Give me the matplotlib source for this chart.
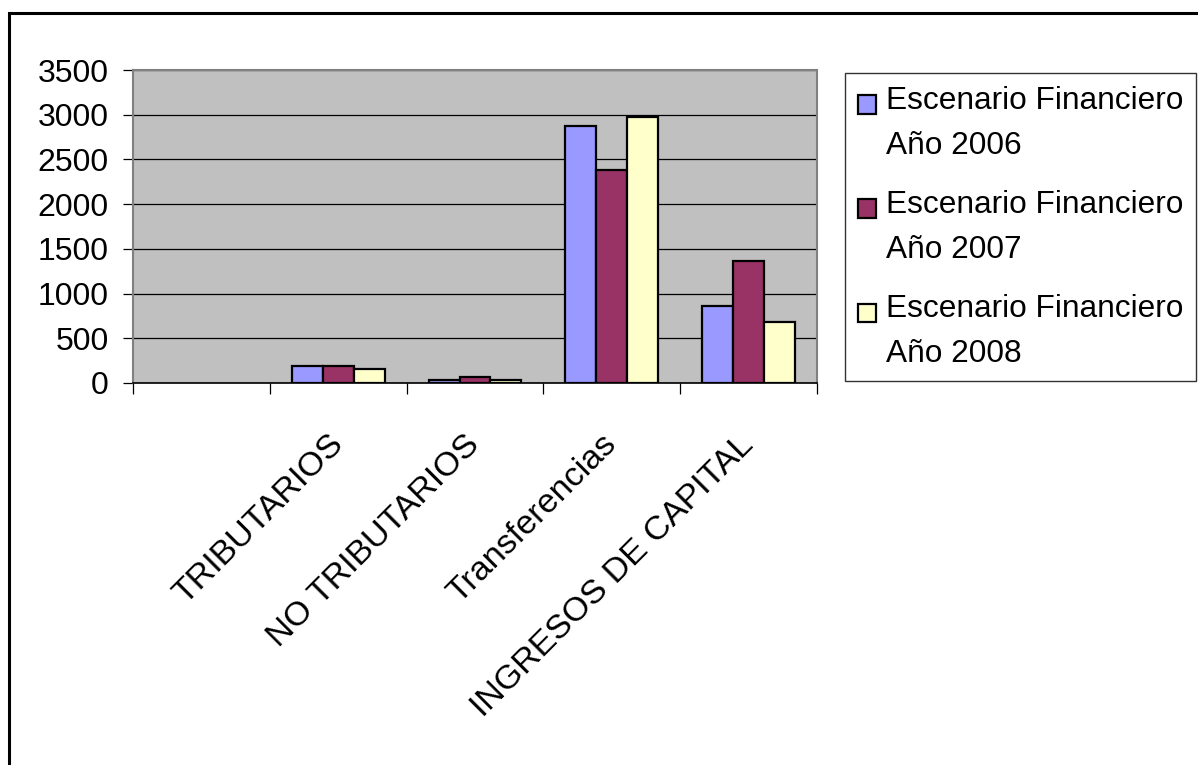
import numpy as np
import matplotlib
matplotlib.use("Agg")
import matplotlib.pyplot as plt
from matplotlib.patches import Rectangle
from matplotlib.legend_handler import HandlerPatch

plt.rcParams['font.family'] = ['Liberation Sans', 'DejaVu Sans']

# data (first slot is an empty category)
categories = ['', 'TRIBUTARIOS', 'NO TRIBUTARIOS', 'Transferencias', 'INGRESOS DE CAPITAL']
series_names = ['Escenario Financiero\nAño 2006',
                'Escenario Financiero\nAño 2007',
                'Escenario Financiero\nAño 2008']
values_2006 = [np.nan, 186, 29, 2877, 864]
values_2007 = [np.nan, 186, 63, 2385, 1364]
values_2008 = [np.nan, 157, 29, 2970, 678]
colors = ['#9999FF', '#993366', '#FFFFCC']
y_ticks = [0, 500, 1000, 1500, 2000, 2500, 3000, 3500]

W, H = 1198, 765
fig = plt.figure(figsize=(W / 100, H / 100), dpi=100)
ax = fig.add_axes([133 / W, 1 - 383 / H, (817 - 133) / W, (383 - 70) / H])
ax.set_facecolor('#C0C0C0')

x = np.arange(len(categories)) + 0.5
bw = 0.226
bars = []
for i, (vals, name, c) in enumerate(zip([values_2006, values_2007, values_2008], series_names, colors)):
    b = ax.bar(x + (i - 1) * bw, vals, bw, color=c, edgecolor='black', linewidth=1.6,
               label=name, zorder=3)
    bars.append(b)

ax.set_xlim(0, len(categories))
ax.set_ylim(0, 3500)
ax.set_yticks(y_ticks)
ax.yaxis.grid(True, color='black', linewidth=0.9, zorder=1)
ax.tick_params(axis='y', labelsize=23, length=7, width=0.9, pad=10.5, color='black')

ax.set_xticks(x)
ax.set_xticklabels(categories, rotation=45, ha='right', va='center', rotation_mode='anchor')
ax.tick_params(axis='x', which='major', length=0, labelsize=24.5, pad=41)
ax.set_xticks(np.arange(len(categories) + 1), minor=True)
ax.tick_params(axis='x', which='minor', length=8, width=0.9, color='black')

for s in ['left', 'top', 'right']:
    ax.spines[s].set_color('#808080')
    ax.spines[s].set_linewidth(1.5)
ax.spines['bottom'].set_color('black')
ax.spines['bottom'].set_linewidth(1.2)


def top_square(legend, orig_handle, xdescent, ydescent, width, height, fontsize):
    s = 0.58 * fontsize
    return Rectangle((-xdescent, -ydescent + height - s), s, s)


leg = fig.legend(handles=[b[0] for b in bars], labels=series_names,
                 loc='upper left', bbox_to_anchor=(845 / W, 1 - 73 / H),
                 fontsize=22.8, frameon=True, fancybox=False, edgecolor='black',
                 handlelength=0.6, handleheight=2.5, handletextpad=0.3,
                 labelspacing=0.92, borderpad=0.4, borderaxespad=0,
                 handler_map={Rectangle: HandlerPatch(patch_func=top_square)})
leg.get_frame().set_linewidth(1.0)
for t in leg.get_texts():
    t.set_linespacing(1.65)

# outer chart frame (left and top edges visible)
fig.patches.append(Rectangle((9 / W, -0.05), 1.2, 1 - 13 / H + 0.05, transform=fig.transFigure,
                             fill=False, edgecolor='black', linewidth=2.2))

fig.savefig('out.png', dpi=100)
